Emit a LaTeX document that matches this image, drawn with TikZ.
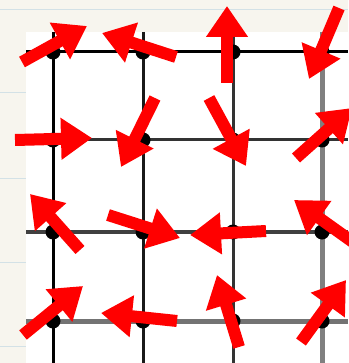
\documentclass[tikz,border=0pt]{standalone}
\usepackage{xcolor}
\usepackage{tikz}
\usetikzlibrary{arrows.meta, calc}

\definecolor{paper}{HTML}{F7F5EE}
\definecolor{ruling}{HTML}{D3E1E6}
\definecolor{vecred}{HTML}{FF0000}

\begin{document}
\begin{tikzpicture}[
        x=1pt, y=-1pt,
        dot/.style={circle, fill=black, inner sep=0pt, minimum size=15pt},
        vec/.style={-{Triangle[length=31pt, width=40pt]}, line width=12pt, draw=vecred}
    ]
        \useasboundingbox (0,0) rectangle (348,363);
        \fill[paper] (0,0) rectangle (348,363);
        \foreach \y in {10,93,178,262,346}
            \draw[ruling, line width=1pt] (0,\y) -- (348,\y);
        \fill[white] (26,32) rectangle (348,363);
        % grid
        \foreach \x/\c/\w in {53/black/3, 143/black!90/3, 233/black!80/3, 322/black!50/5}
            \draw[\c, line width=\w pt] (\x,32) -- (\x,363);
        \foreach \y/\c/\w in {52/black/3, 140/black!80/3, 232/black!75/4, 321/black!55/5}
            \draw[\c, line width=\w pt] (26,\y) -- (348,\y);
        % dots
        \foreach \r/\y in {1/52, 2/140, 3/232, 4/321}
            \foreach \c/\x in {1/53, 2/143, 3/233, 4/322}
                \node[dot] (d\r\c) at (\x,\y) {};
        % row 1
        \draw[vec] ($(d11)+(-31,10)$) -- ($(d11)+(34,-26)$);
        \draw[vec] ($(d12)+(33,5)$) -- ($(d12)+(-41,-19)$);
        \draw[vec] ($(d13)+(-6,31)$) -- ($(d13)+(-6,-46)$);
        \draw[vec] ($(d14)+(17,-44)$) -- ($(d14)+(-13,27)$);
        % row 2
        \draw[vec] ($(d21)+(-38,0)$) -- ($(d21)+(39,-2)$);
        \draw[vec] ($(d22)+(12,-42)$) -- ($(d22)+(-22,27)$);
        \draw[vec] ($(d23)+(-24,-42)$) -- ($(d23)+(13,26)$);
        \draw[vec] ($(d24)+(-26,18)$) -- ($(d24)+(30,-32)$);
        % row 3
        \draw[vec] ($(d31)+(27,18)$) -- ($(d31)+(-23,-38)$);
        \draw[vec] ($(d32)+(-35,-17)$) -- ($(d32)+(37,6)$);
        \draw[vec] ($(d33)+(33,-1)$) -- ($(d33)+(-43,3)$);
        \draw[vec] ($(d34)+(35,13)$) -- ($(d34)+(-28,-32)$);
        % row 4
        \draw[vec] ($(d41)+(-30,14)$) -- ($(d41)+(30,-35)$);
        \draw[vec] ($(d42)+(34,0)$) -- ($(d42)+(-42,-8)$);
        \draw[vec] ($(d43)+(6,26)$) -- ($(d43)+(-16,-46)$);
        \draw[vec] ($(d44)+(-21,21)$) -- ($(d44)+(24,-41)$);
    \end{tikzpicture}
\end{document}
